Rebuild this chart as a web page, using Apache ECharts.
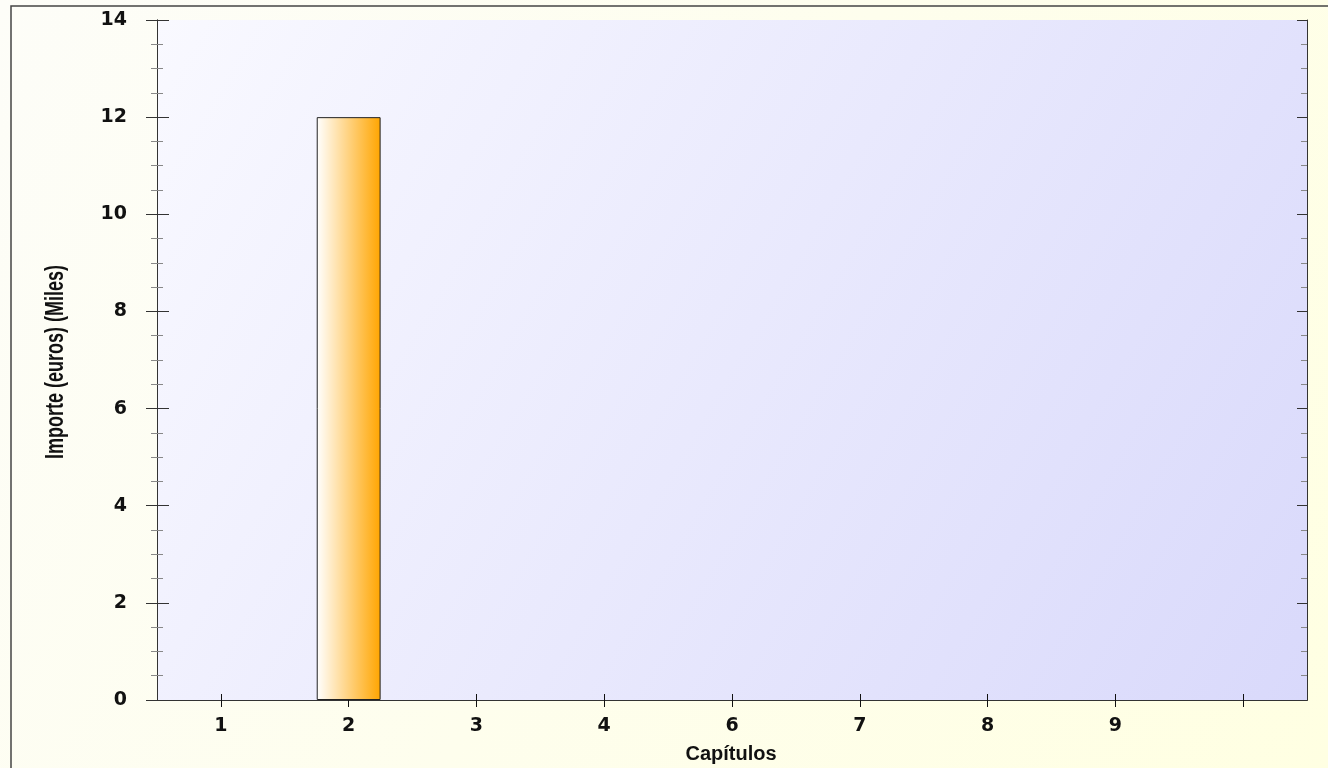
<!DOCTYPE html>
<html>
<head>
<meta charset="utf-8">
<script src="https://cdn.jsdelivr.net/npm/echarts@6/dist/echarts.min.js"></script>
<style>html,body{margin:0;padding:0;}#c{width:1328px;height:768px;}</style>
</head>
<body>
<div id="c"></div>
<script>
var categories = ['1', '2', '3', '4', '6', '7', '8', '9', ''];
var importes = [0, 12, 0, 0, 0, 0, 0, 0, 0];
var yTicks = { min: 0, max: 14, interval: 2 };
var xTitle = 'Capítulos';
var yTitle = 'Importe (euros) (Miles)';

var chart = echarts.init(document.getElementById('c'));
var lineCol = '#333';
var labelFont = { fontFamily: 'DejaVu Sans', fontWeight: 'bold', fontSize: 19, color: '#111' };

function yAx(pos, inside, len, minorLen, showLabel) {
  return {
    type: 'value', position: pos, offset: 0,
    min: yTicks.min, max: yTicks.max, interval: yTicks.interval,
    axisLine: { show: true, lineStyle: { color: lineCol, width: 1 } },
    axisTick: { show: true, inside: inside, length: len, lineStyle: { color: lineCol } },
    minorTick: { show: true, splitNumber: 4, length: minorLen, lineStyle: { color: '#888' } },
    axisLabel: Object.assign({ show: showLabel, margin: 30 }, labelFont),
    splitLine: { show: false }
  };
}
function xAx(pos, inside, len, showLabel) {
  return {
    type: 'category', position: pos, offset: 0, data: categories, boundaryGap: true,
    axisLine: { show: true, lineStyle: { color: lineCol, width: 1 } },
    axisTick: { show: true, inside: inside, length: len, alignWithLabel: true, lineStyle: { color: '#111' } },
    axisLabel: Object.assign({ show: showLabel, margin: 17 }, labelFont),
    splitLine: { show: false }
  };
}

chart.setOption({
  animation: false,
  backgroundColor: new echarts.graphic.LinearGradient(0, 0, 1, 1, [
    { offset: 0, color: '#FDFDF8' }, { offset: 1, color: '#FFFFE2' }
  ]),
  grid: {
    left: 157, right: 21, top: 20, bottom: 68, show: true, borderWidth: 0,
    backgroundColor: new echarts.graphic.LinearGradient(0, 0, 1, 1, [
      { offset: 0, color: '#F9F9FF' }, { offset: 1, color: '#D9D9FB' }
    ])
  },
  xAxis: [xAx('bottom', false, 7, true), xAx('bottom', true, 6, false), xAx('top', true, 6, false)],
  yAxis: [yAx('left', false, 11, 6, true), yAx('left', true, 12, 6, false), yAx('right', true, 10, 6, false)],
  series: [{
    type: 'bar', xAxisIndex: 0, yAxisIndex: 0, barWidth: '50%',
    data: importes.map(function (v) {
      return v === 0 ? { value: v, itemStyle: { borderWidth: 0, opacity: 0 } } : v;
    }),
    itemStyle: {
      color: new echarts.graphic.LinearGradient(0, 0, 1, 0, [
        { offset: 0, color: '#FFFFFF' }, { offset: 1, color: '#FFA500' }
      ]),
      borderColor: '#222', borderWidth: 1
    }
  }],
  graphic: [
    { type: 'rect', shape: { x: 11, y: 6, width: 1400, height: 800 }, style: { fill: 'none', stroke: '#444', lineWidth: 1.5 }, z: 100 },
    { type: 'text', x: 731, y: 754, style: { text: xTitle, fontFamily: 'Liberation Sans', fontWeight: 'bold', fontSize: 20, fill: '#111', textAlign: 'center', textVerticalAlign: 'middle' } },
    { type: 'text', x: 56, y: 362, rotation: Math.PI / 2, scaleX: 0.72, style: { text: yTitle, fontFamily: 'Liberation Sans', fontWeight: 'bold', fontSize: 25, fill: '#111', textAlign: 'center', textVerticalAlign: 'middle' } }
  ]
});
</script>
</body>
</html>
